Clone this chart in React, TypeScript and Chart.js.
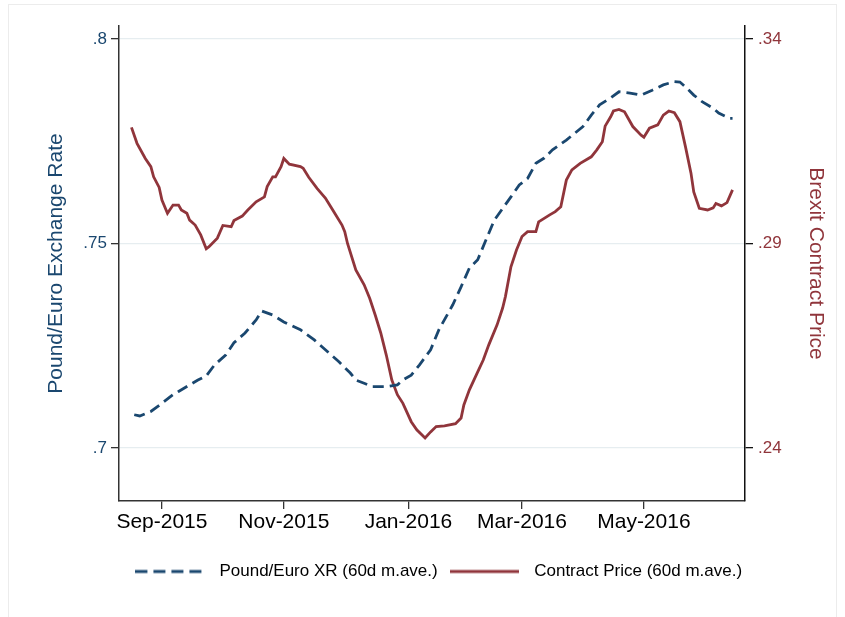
import React, { useEffect, useRef } from "react";
import { Chart, registerables } from "chart.js";

Chart.register(...registerables);

// x values are trading-day indices counted from 1 Sep 2015
const xTickValues = [0, 44, 89, 130, 174];
const xTickLabels = ["Sep-2015", "Nov-2015", "Jan-2016", "Mar-2016", "May-2016"];

const leftTickValues = [0.7, 0.75, 0.8];
const leftTickLabels = [".7", ".75", ".8"];
const rightTickValues = [0.24, 0.29, 0.34];
const rightTickLabels = [".24", ".29", ".34"];

const xrDays = [-10, -8, -4, 0, 4, 6, 10, 13, 16, 19, 23, 26, 30, 34, 36, 40, 44, 50, 55, 59, 64, 68, 70, 73, 76, 81, 85, 87, 90, 93, 97, 100, 105, 108, 111, 114, 117, 120, 126, 129, 132, 135, 138, 141, 146, 152, 155, 158, 162, 165, 169, 173, 177, 181, 185, 187, 189, 192, 195, 199, 201, 205, 206];
const xrValues = [0.7081, 0.7078, 0.7089, 0.7109, 0.713, 0.7138, 0.7154, 0.7166, 0.7176, 0.7203, 0.7227, 0.7257, 0.7281, 0.7313, 0.7335, 0.7325, 0.7308, 0.7289, 0.7264, 0.724, 0.721, 0.7183, 0.7166, 0.7158, 0.715, 0.715, 0.7154, 0.7166, 0.7178, 0.7203, 0.724, 0.7289, 0.735, 0.7394, 0.744, 0.746, 0.7509, 0.7557, 0.7614, 0.7643, 0.7659, 0.7696, 0.7709, 0.7729, 0.7753, 0.7786, 0.7814, 0.7839, 0.7856, 0.7871, 0.7868, 0.7863, 0.7875, 0.7888, 0.7896, 0.7895, 0.7883, 0.7863, 0.7847, 0.7831, 0.7819, 0.7806, 0.7806];

const priceDays = [-11, -9, -6, -4, -3, -1, 0, 2, 4, 6, 7, 9, 10, 12, 14, 16, 17, 20, 22, 25, 26, 29, 31, 34, 37, 38, 40, 41, 43, 44, 46, 50, 51, 53, 56, 58, 59, 61, 62, 65, 66, 67, 70, 73, 75, 77, 79, 81, 83, 85, 87, 90, 92, 95, 97, 99, 102, 106, 108, 109, 111, 114, 116, 118, 121, 123, 124, 126, 128, 130, 132, 135, 136, 140, 142, 144, 146, 148, 151, 155, 157, 159, 160, 162, 163, 165, 167, 170, 173, 174, 176, 179, 181, 183, 185, 187, 189, 191, 192, 194, 197, 199, 200, 202, 204, 206];
const priceValues = [0.3184, 0.3145, 0.3108, 0.3088, 0.3063, 0.3037, 0.3006, 0.2974, 0.2994, 0.2994, 0.2982, 0.2974, 0.2957, 0.2945, 0.2921, 0.2887, 0.2892, 0.2913, 0.2944, 0.2941, 0.2956, 0.2967, 0.2982, 0.3002, 0.3014, 0.3039, 0.3063, 0.3063, 0.3088, 0.3108, 0.3094, 0.3088, 0.3084, 0.3062, 0.3035, 0.3019, 0.3011, 0.2989, 0.2978, 0.2945, 0.2929, 0.29, 0.2835, 0.2799, 0.2766, 0.2725, 0.2681, 0.2627, 0.2566, 0.253, 0.2509, 0.2464, 0.2444, 0.2424, 0.2439, 0.2452, 0.2454, 0.2459, 0.2473, 0.2505, 0.2542, 0.2586, 0.2615, 0.2652, 0.2701, 0.2742, 0.277, 0.2843, 0.2884, 0.2917, 0.2929, 0.2929, 0.2953, 0.297, 0.2978, 0.299, 0.3055, 0.308, 0.3096, 0.3112, 0.3129, 0.3149, 0.3187, 0.321, 0.3224, 0.3228, 0.3222, 0.3186, 0.3165, 0.316, 0.3182, 0.319, 0.3214, 0.3224, 0.322, 0.3198, 0.3137, 0.3072, 0.3026, 0.2986, 0.2982, 0.2987, 0.2998, 0.2992, 0.3, 0.3031];

const BLUE = "#1a476f";
const RED = "#90353b";
const FONT = "'Liberation Sans', Arial, Helvetica, sans-serif";
const LINE_W = 2.8;

const framePlugin = {
  id: "frame",
  beforeDraw(chart: any) {
    const ctx = chart.ctx;
    ctx.save();
    ctx.fillStyle = "#ffffff";
    ctx.fillRect(0, 0, chart.width, chart.height);
    ctx.strokeStyle = "#ececec";
    ctx.lineWidth = 1;
    ctx.strokeRect(8.5, 4.5, 828, 620);
    ctx.restore();
  },
};

function legendSample(color: string, dash: number[]) {
  const c = document.createElement("canvas");
  c.width = 69;
  c.height = 6;
  const g = c.getContext("2d")!;
  g.strokeStyle = color;
  g.lineWidth = LINE_W;
  g.setLineDash(dash);
  g.beginPath();
  g.moveTo(0, 3);
  g.lineTo(69, 3);
  g.stroke();
  return c;
}

export default function App() {
  const ref = useRef<HTMLCanvasElement | null>(null);

  useEffect(() => {
    if (!ref.current) return;
    const samples = [legendSample(BLUE, [12, 6]), legendSample(RED, [])];
    const chart = new Chart(ref.current, {
      type: "line",
      data: {
        datasets: [
          {
            label: "Pound/Euro XR (60d m.ave.)",
            data: xrDays.map((d, i) => ({ x: d, y: xrValues[i] })),
            borderColor: BLUE,
            backgroundColor: BLUE,
            borderWidth: LINE_W,
            borderDash: [11, 6],
            pointRadius: 0,
            tension: 0,
            yAxisID: "y",
          },
          {
            label: "Contract Price (60d m.ave.)",
            data: priceDays.map((d, i) => ({ x: d, y: priceValues[i] })),
            borderColor: RED,
            backgroundColor: RED,
            borderWidth: LINE_W,
            pointRadius: 0,
            tension: 0,
            yAxisID: "y1",
          },
        ],
      },
      options: {
        animation: false,
        responsive: false,
        layout: { padding: { left: 26, right: 0, top: 26, bottom: 27 } },
        plugins: {
          tooltip: { enabled: false },
          legend: {
            position: "bottom",
            labels: {
              usePointStyle: true,
              pointStyleWidth: 82,
              padding: 6,
              color: "#000",
              font: { family: FONT, size: 17 },
              generateLabels: (ch: any) =>
                Chart.defaults.plugins.legend.labels
                  .generateLabels(ch)
                  .map((it: any, i: number) => ({ ...it, pointStyle: samples[i] })),
            },
          },
        },
        scales: {
          x: {
            type: "linear",
            min: -15.5,
            max: 210.5,
            afterBuildTicks: (s: any) => {
              s.ticks = xTickValues.map((v) => ({ value: v }));
            },
            afterFit: (s: any) => {
              s.height = 56;
            },
            ticks: {
              autoSkip: false,
              maxRotation: 0,
              padding: 1,
              color: "#000",
              font: { family: FONT, size: 21 },
              callback: (v: any) => xTickLabels[xTickValues.indexOf(v)],
            },
            grid: { drawOnChartArea: false, tickLength: 8, tickColor: "#333", lineWidth: 1.3 },
            border: { display: true, color: "#333", width: 1.5 },
          },
          y: {
            type: "linear",
            position: "left",
            min: 0.687,
            max: 0.8032,
            afterBuildTicks: (s: any) => {
              s.ticks = leftTickValues.map((v) => ({ value: v }));
            },
            afterFit: (s: any) => {
              s.width = 93;
            },
            ticks: {
              padding: 4,
              color: BLUE,
              font: { family: FONT, size: 17 },
              callback: (v: any) => leftTickLabels[leftTickValues.indexOf(v)],
            },
            grid: { color: "#e6edf0", lineWidth: 1.3, tickLength: 8, tickColor: "#333" },
            border: { display: true, color: "#333", width: 1.5 },
            title: {
              display: true,
              text: "Pound/Euro Exchange Rate",
              color: BLUE,
              font: { family: FONT, size: 21 },
              padding: { top: 18, bottom: 0 },
            },
          },
          y1: {
            type: "linear",
            position: "right",
            min: 0.227,
            max: 0.3432,
            afterBuildTicks: (s: any) => {
              s.ticks = rightTickValues.map((v) => ({ value: v }));
            },
            afterFit: (s: any) => {
              s.width = 100;
            },
            ticks: {
              padding: 5,
              color: RED,
              font: { family: FONT, size: 17 },
              callback: (v: any) => rightTickLabels[rightTickValues.indexOf(v)],
            },
            grid: { drawOnChartArea: false, tickLength: 8, tickColor: "#111", lineWidth: 1.3 },
            border: { display: true, color: "#111", width: 1.5 },
            title: {
              display: true,
              text: "Brexit Contract Price",
              color: RED,
              font: { family: FONT, size: 21 },
              padding: { top: 17, bottom: 0 },
            },
          },
        },
      },
      plugins: [framePlugin],
    } as any);
    return () => chart.destroy();
  }, []);

  return (
    <div style={{ position: "absolute", left: 0, top: 0, width: 845, height: 617 }}>
      <canvas ref={ref} width={845} height={617} style={{ display: "block" }} />
    </div>
  );
}
